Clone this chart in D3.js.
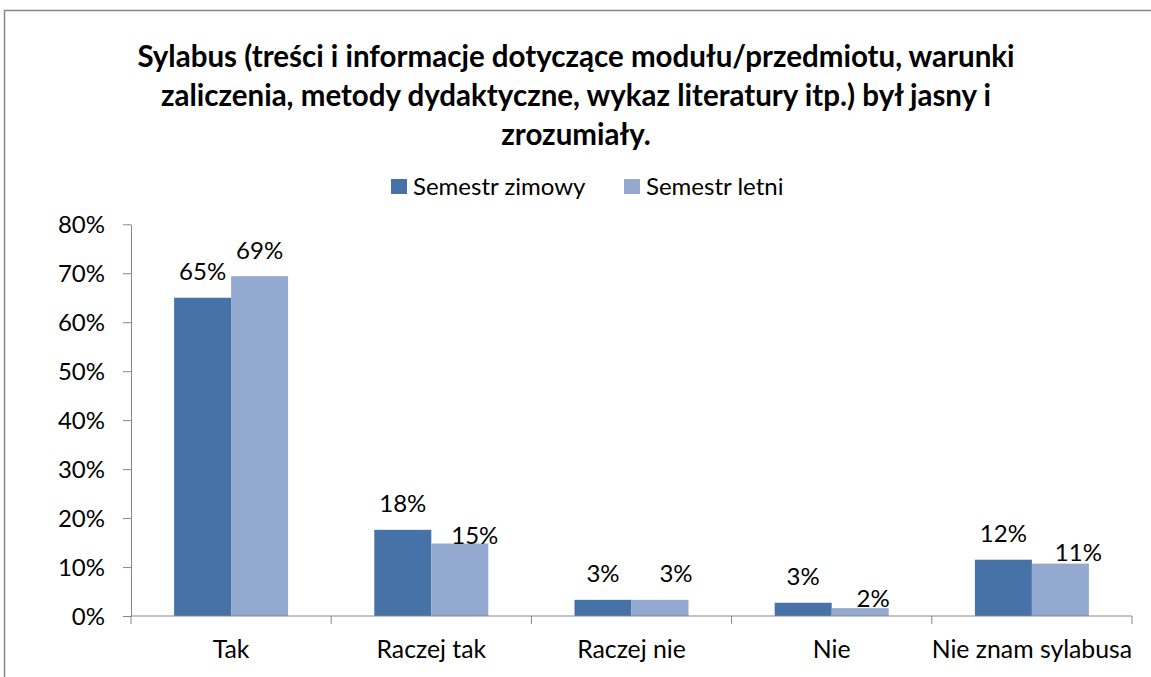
<!DOCTYPE html>
<html>
<head>
<meta charset="utf-8">
<script src="https://cdn.jsdelivr.net/npm/d3@7"></script>
<style>
  body { margin: 0; background: #fff; }
  svg { display: block; font-family: Lato, 'Open Sans', sans-serif; }
  .axis path, .axis line { stroke: #868686; }
  .axis text { font-family: Lato, 'Open Sans', sans-serif; font-size: 24px; fill: #000; }
  .x-axis text { font-size: 24.8px; }
</style>
</head>
<body>
<svg id="chart" width="1151" height="677"></svg>
<script>
// chart data
var categories = ['Tak', 'Raczej tak', 'Raczej nie', 'Nie', 'Nie znam sylabusa']
var series = ['Semestr zimowy', 'Semestr letni']
var zimowy = [65.0, 17.6, 3.3, 2.7, 11.5]
var letni = [69.4, 14.8, 3.3, 1.6, 10.7]
var yTicks = [0, 10, 20, 30, 40, 50, 60, 70, 80]
var titleLines = [
  'Sylabus (treści i informacje dotyczące modułu/przedmiotu, warunki',
  'zaliczenia, metody dydaktyczne, wykaz literatury itp.) był jasny i',
  'zrozumiały.'
]

// hand-moved data labels (dx, dy from the default spot)
var labelShift = [
  [[0, 0], [0, 0], [0, 0], [0, 0], [0, 0]],
  [[0, 0], [15, 18], [16, 0], [13, 16], [18, 15]]
]

var colors = ['#4672A8', '#94A9D0']
var values = [zimowy, letni]

var svg = d3.select('#chart')

// outer frame
svg.append('rect')
  .attr('x', 4.5).attr('y', 10.5)
  .attr('width', 1200).attr('height', 700)
  .attr('fill', 'none').attr('stroke', '#878787').attr('stroke-width', 1.5)

var x = d3.scaleBand().domain(categories).range([131, 1132])
var xs = d3.scaleBand().domain(series).range([0, x.bandwidth()]).paddingOuter(0.756)
var y = d3.scaleLinear().domain([0, 80]).range([616, 224.3])

// title
svg.append('text')
  .attr('text-anchor', 'middle')
  .style('font-weight', 'bold').style('font-size', '29.5px')
  .selectAll('tspan').data(titleLines).join('tspan')
  .attr('x', 576).attr('y', (d, i) => 67 + i * 39)
  .text(d => d)

// legend
var legendX = [391, 624]
var leg = svg.selectAll('g.leg').data(series).join('g')
  .attr('transform', (d, i) => `translate(${legendX[i]},179)`)
leg.append('rect').attr('width', 16).attr('height', 15).attr('fill', (d, i) => colors[i])
leg.append('text').attr('x', 22).attr('y', 16)
  .style('font-size', '24px').text(d => d)

// y axis
svg.append('g').attr('class', 'axis')
  .attr('transform', 'translate(131,0)')
  .call(d3.axisLeft(y).tickValues(yTicks).tickSize(8).tickSizeOuter(0).tickPadding(18)
    .tickFormat(d => d + '%'))
  .call(g => g.selectAll('text').attr('dy', '0.35em'))

// bars
series.forEach((s, si) => {
  svg.append('g').selectAll('rect').data(categories).join('rect')
    .attr('x', d => x(d) + xs(s))
    .attr('width', xs.bandwidth())
    .attr('y', (d, i) => y(values[si][i]))
    .attr('height', (d, i) => y(0) - y(values[si][i]))
    .attr('fill', colors[si])

  svg.append('g').selectAll('text').data(categories).join('text')
    .attr('text-anchor', 'middle')
    .attr('x', (d, i) => x(d) + xs(s) + xs.bandwidth() / 2 + labelShift[si][i][0])
    .attr('y', (d, i) => y(values[si][i]) - 26 + labelShift[si][i][1])
    .attr('dy', '0.35em')
    .style('font-size', '24px')
    .text((d, i) => Math.round(values[si][i]) + '%')
})

// x axis: labels at centres, ticks on category boundaries
var xg = svg.append('g').attr('class', 'axis x-axis')
  .attr('transform', 'translate(0,616)')
  .call(d3.axisBottom(x).tickSize(0).tickPadding(24))
xg.select('.domain').remove()
xg.append('line').attr('x1', 131).attr('x2', 1132)
xg.selectAll('line.sep').data(categories.map(c => x(c)).concat([x.range()[1]]))
  .join('line').attr('class', 'sep')
  .attr('x1', d => d).attr('x2', d => d).attr('y1', 0).attr('y2', 8)
</script>
</body>
</html>
